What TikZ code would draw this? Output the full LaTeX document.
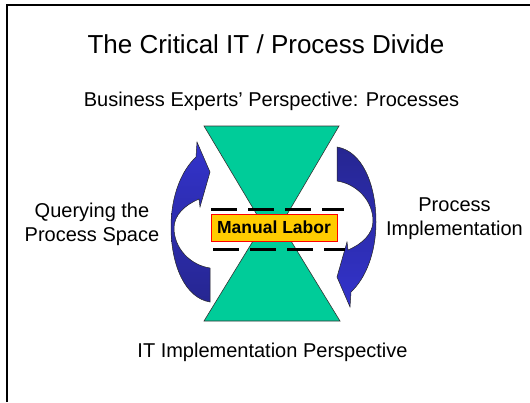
\documentclass[tikz,border=0pt]{standalone}
\usepackage{fontspec}
\setmainfont{Liberation Sans}
\definecolor{glassgreen}{RGB}{0,204,153}
\definecolor{laborgold}{RGB}{255,204,0}
\definecolor{sweeplight}{RGB}{51,51,204}
\definecolor{sweepdark}{RGB}{38,38,145}

\begin{document}
\begin{tikzpicture}[x=1pt, y=-1pt,
  caption/.style={font=\fontsize{20}{24}\selectfont, align=center, anchor=base, inner sep=0pt},
  glass/.style={fill=glassgreen, draw=black!80, line width=0.6pt},
  sweep/.style={draw=black!85, line width=0.5pt},
  divide/.style={line width=3pt, dash pattern=on 26pt off 11pt}]
\useasboundingbox (0,0) rectangle (530,402);
\draw[line width=2.5pt] (7,402) -- (7,5) -- (530,5);

\node (title) [caption, font=\fontsize{26}{31}\selectfont] at (266,53.6) {The Critical IT / Process Divide};
\node (business) [caption] at (271.5,106.6) {Business Experts’ Perspective: Processes};
\node (itside) [caption] at (272.5,357.5) {IT Implementation Perspective};
\node (querying) [caption] at (92,241) {Querying the\\Process Space};
\node (implement) [caption] at (454.5,235) {Process\\Implementation};

\path[glass] (204,321) -- (272,210) -- (340,321) -- cycle;
\path[glass] (204,126) -- (339,126) -- (272,240) -- cycle;

\path[sweep, top color=sweeplight, bottom color=sweepdark]
  (210,302) .. controls (185,298) and (171,265) .. (171,227)
  .. controls (171,195) and (182,170) .. (196,157)
  -- (197,142) -- (210,172) -- (200,207) -- (199,199)
  .. controls (185,205) and (174,215) .. (174,228)
  .. controls (174,248) and (190,265) .. (210,268) -- cycle;
\path[sweep, top color=sweepdark, bottom color=sweeplight]
  (337,147) .. controls (362,151) and (376,184) .. (376,222)
  .. controls (376,254) and (365,279) .. (351,292)
  -- (350,307) -- (337,277) -- (347,242) -- (348,250)
  .. controls (362,244) and (373,234) .. (373,221)
  .. controls (373,201) and (357,184) .. (337,181) -- cycle;

\draw[divide] (211,209) -- (344,209);
\draw[divide] (213,249) -- (345,249);

\node (labor) [fill=laborgold, draw=red, line width=0.8pt, minimum width=126pt, minimum height=27pt, inner sep=0pt, font=\bfseries\fontsize{17.5}{21}\selectfont] at (274,227.5) {Manual Labor};
\end{tikzpicture}
\end{document}
